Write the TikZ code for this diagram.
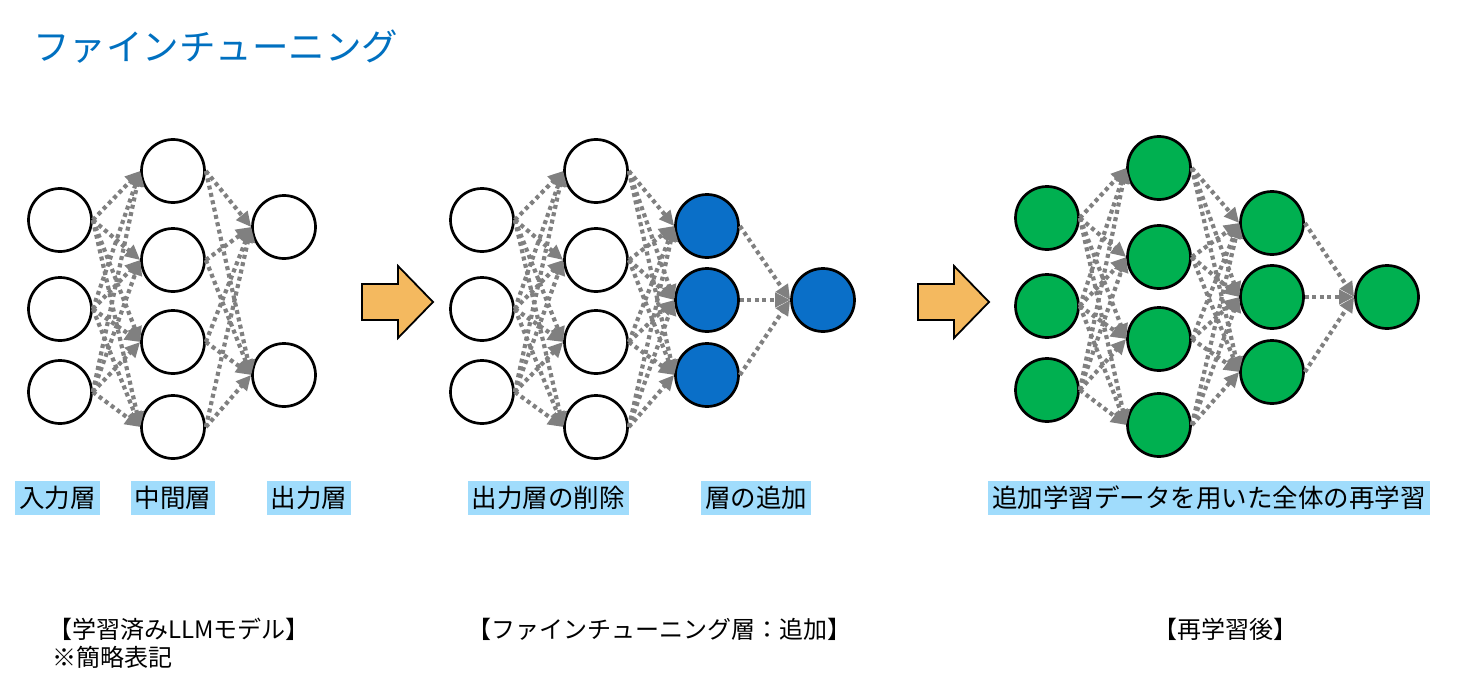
\documentclass[tikz,border=0pt]{standalone}
\usepackage{fontspec}
\setmainfont{Noto Sans CJK JP}
\usetikzlibrary{arrows.meta}
\definecolor{titleblue}{HTML}{0070C0}
\definecolor{nodeblue}{HTML}{0A6FC8}
\definecolor{nodegreen}{HTML}{00B050}
\definecolor{conngray}{HTML}{808080}
\definecolor{arroworange}{HTML}{F4B95F}
\definecolor{labelblue}{HTML}{A0DCFC}
\begin{document}
\begin{tikzpicture}[x=1pt,y=-1pt,
  neuron/.style={circle,draw=black,line width=2.7pt,minimum size=63pt,inner sep=0pt,fill=white},
  blueneuron/.style={neuron,fill=nodeblue},
  greenneuron/.style={neuron,fill=nodegreen},
  conn/.style={draw=conngray,line width=4.2pt,dash pattern=on 4pt off 3.5pt,
    -{Triangle[length=15pt,width=14pt]}},
  blockarrow/.style={draw=black,line width=1.8pt,fill=arroworange,line join=miter},
  layerlabel/.style={fill=labelblue,font=\fontsize{25.5}{30}\selectfont,inner xsep=4pt,
    inner ysep=0pt,minimum height=34pt,text height=22.4pt,text depth=3.1pt},
  caption/.style={font=\fontsize{24}{29}\selectfont,inner sep=0pt},
  titletext/.style={font=\fontsize{36.5}{42}\selectfont,text=titleblue,inner sep=0pt}
]
\useasboundingbox (0,0) rectangle (1464,682);

% title
\node[titletext,anchor=base west] (title) at (33,61) {ファインチューニング};

% ---------- network 1 ----------
\foreach \y [count=\i] in {220,309,392} \node[neuron] (a\i) at (60,\y) {};
\foreach \y [count=\i] in {171,260,342,427} \node[neuron] (b\i) at (173,\y) {};
\foreach \y [count=\i] in {227,375} \node[neuron] (c\i) at (284,\y) {};
\foreach \s in {1,2,3} \foreach \t in {1,2,3,4} \draw[conn] (a\s.east) -- (b\t.west);
\foreach \s in {1,2,3,4} \foreach \t in {1,2} \draw[conn] (b\s.east) -- (c\t.west);

% ---------- network 2 ----------
\foreach \y [count=\i] in {220,309,392} \node[neuron] (d\i) at (482,\y) {};
\foreach \y [count=\i] in {171,260,342,427} \node[neuron] (e\i) at (596,\y) {};
\foreach \y [count=\i] in {226,300,375} \node[blueneuron] (f\i) at (707,\y) {};
\node[blueneuron] (g) at (823,300) {};
\foreach \s in {1,2,3} \foreach \t in {1,2,3,4} \draw[conn] (d\s.east) -- (e\t.west);
\foreach \s in {1,2,3,4} \foreach \t in {1,2,3} \draw[conn] (e\s.east) -- (f\t.west);
\foreach \s in {1,2,3} \draw[conn] (f\s.east) -- (g.west);

% ---------- network 3 ----------
\foreach \y [count=\i] in {218,306,390} \node[greenneuron] (h\i) at (1047,\y) {};
\foreach \y [count=\i] in {168,257,339,425} \node[greenneuron] (i\i) at (1159,\y) {};
\foreach \y [count=\i] in {223,297,372} \node[greenneuron] (j\i) at (1272,\y) {};
\node[greenneuron] (k) at (1387,297) {};
\foreach \s in {1,2,3} \foreach \t in {1,2,3,4} \draw[conn] (h\s.east) -- (i\t.west);
\foreach \s in {1,2,3,4} \foreach \t in {1,2,3} \draw[conn] (i\s.east) -- (j\t.west);
\foreach \s in {1,2,3} \draw[conn] (j\s.east) -- (k.west);

% ---------- block arrows ----------
\draw[blockarrow] (362,284) -- (398,284) -- (398,266) -- (433,302) -- (398,338) -- (398,320) -- (362,320) -- cycle;
\draw[blockarrow] (918,284) -- (954,284) -- (954,266) -- (989,302) -- (954,338) -- (954,320) -- (918,320) -- cycle;

% ---------- layer labels ----------
\node[layerlabel] (l1) at (57.5,498) {入力層};
\node[layerlabel] (l2) at (173,498) {中間層};
\node[layerlabel] (l3) at (309,498) {出力層};
\node[layerlabel] (l4) at (548,498) {出力層の削除};
\node[layerlabel] (l5) at (756,498) {層の追加};
\node[layerlabel] (l6) at (1209,498) {追加学習データを用いた全体の再学習};

% ---------- captions ----------
\node[caption,anchor=base west] (cap1) at (48,638) {【学習済みLLMモデル】};
\node[caption,anchor=base west] (cap1b) at (52,666) {※簡略表記};
\node[caption,anchor=base] (cap2) at (659,638) {【ファインチューニング層：追加】};
\node[caption,anchor=base] (cap3) at (1225,638) {【再学習後】};
\end{tikzpicture}
\end{document}
